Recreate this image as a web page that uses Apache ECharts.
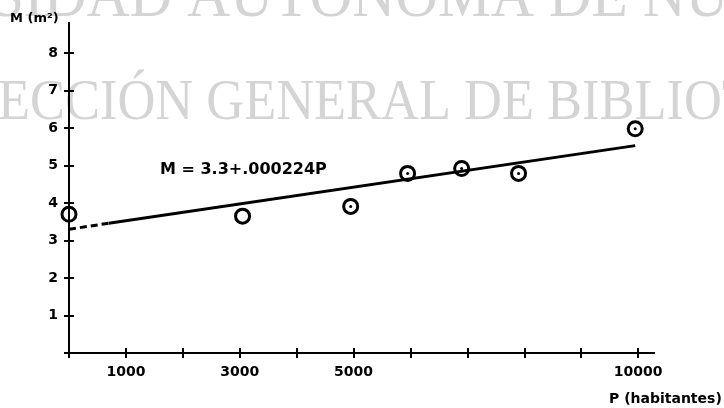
<!DOCTYPE html>
<html>
<head>
<meta charset="utf-8">
<script src="https://cdn.jsdelivr.net/npm/echarts@6/dist/echarts.min.js"></script>
<style>html,body{margin:0;padding:0;background:#fff}#c{width:724px;height:408px}</style>
</head>
<body>
<div id="c"></div>
<script>
// Observed points
var pointP = [0, 3050, 4950, 5950, 6900, 7900, 9950];
var pointM = [3.70, 3.65, 3.91, 4.79, 4.92, 4.79, 5.98];
var dotted = [false, false, true, true, true, true, true];
// Fitted line: dashed start, solid rest
var dashP = [0, 700];
var dashM = [3.30, 3.46];
var solidP = [700, 9950];
var solidM = [3.46, 5.53];
// Ticks
var yTicks = [0, 1, 2, 3, 4, 5, 6, 7, 8];
var yLabels = [1, 2, 3, 4, 5, 6, 7, 8];
var xTicks = [0, 1000, 2000, 3000, 4000, 5000, 6000, 7000, 8000, 9000, 10000];
var xLabels = [1000, 3000, 5000, 10000];
var equationText = 'M = 3.3+.000224P';
var yName = 'M (m²)';
var xName = 'P (habitantes)';
var watermark1 = 'SIDAD AUTÓNOMA DE NU';
var watermark2 = 'ECCIÓN GENERAL DE BIBLIOT';

var pts = pointP.map(function (p, i) { return [p, pointM[i]]; });
var dots = pointP.map(function (p, i) { return [p, pointM[i]]; }).filter(function (d, i) { return dotted[i]; });
var dash = dashP.map(function (p, i) { return [p, dashM[i]]; });
var solid = solidP.map(function (p, i) { return [p, solidM[i]]; });

var FONT = 'DejaVu Sans';
var xMin = 0, xMax = 10280, yMin = 0, yMax = 8.8;

function xAxisDef(inside, labels) {
  return {
    type: 'value', min: xMin, max: xMax, position: 'bottom',
    splitLine: { show: false },
    axisLine: { show: true, onZero: false, lineStyle: { color: '#000', width: 2 } },
    axisTick: { show: true, inside: inside, length: 5, customValues: xTicks, lineStyle: { color: '#000', width: 2 } },
    axisLabel: labels ? { show: true, customValues: xLabels, margin: 12, color: '#000', fontFamily: FONT, fontWeight: 'bold', fontSize: 14,
      formatter: function (v) { return String(v); } } : { show: false }
  };
}
function yAxisDef(inside, labels) {
  return {
    type: 'value', min: yMin, max: yMax, position: 'left',
    splitLine: { show: false },
    axisLine: { show: true, onZero: false, lineStyle: { color: '#000', width: 2 } },
    axisTick: { show: true, inside: inside, length: 5, customValues: yTicks, lineStyle: { color: '#000', width: 2 } },
    axisLabel: labels ? { show: true, customValues: yLabels, margin: 11, color: '#000', fontFamily: FONT, fontWeight: 'bold', fontSize: 14,
      formatter: function (v) { return String(v); } } : { show: false }
  };
}

var chart = echarts.init(document.getElementById('c'), null, { renderer: 'canvas' });
chart.setOption({
  animation: false,
  backgroundColor: '#fff',
  grid: { left: 69, right: 70, top: 23, bottom: 55, containLabel: false },
  xAxis: [xAxisDef(false, true), xAxisDef(true, false)],
  yAxis: [yAxisDef(false, true), yAxisDef(true, false)],
  graphic: [
    { type: 'text', x: -9, y: -1, scaleX: 0.9, silent: true, z: -10,
      style: { text: watermark1, x: 0, y: 0, fill: '#d4d4d4', font: '66px "Liberation Serif"', verticalAlign: 'middle', align: 'left' } },
    { type: 'text', x: -2, y: 104, scaleX: 0.92, silent: true, z: -10,
      style: { text: watermark2, x: 0, y: 0, fill: '#d4d4d4', font: '57px "Liberation Serif"', verticalAlign: 'middle', align: 'left' } },
    { type: 'text', x: 10, y: 19, z: 10,
      style: { text: yName, fill: '#000', font: 'bold 13px "DejaVu Sans"', verticalAlign: 'middle', align: 'left' } },
    { type: 'text', x: 609, y: 399, z: 10,
      style: { text: xName, fill: '#000', font: 'bold 14px "DejaVu Sans"', verticalAlign: 'middle', align: 'left' } },
    { type: 'text', x: 160, y: 170, z: 10,
      style: { text: equationText, fill: '#000', font: 'bold 16px "DejaVu Sans"', verticalAlign: 'middle', align: 'left' } }
  ],
  series: [
    { type: 'line', data: dash, xAxisIndex: 0, yAxisIndex: 0, symbol: 'none', z: 3,
      lineStyle: { color: '#000', width: 3, type: [7, 4] } },
    { type: 'line', data: solid, xAxisIndex: 0, yAxisIndex: 0, symbol: 'none', z: 3,
      lineStyle: { color: '#000', width: 3 } },
    { type: 'scatter', data: pts, xAxisIndex: 0, yAxisIndex: 0, symbol: 'circle', symbolSize: 14, z: 5,
      itemStyle: { color: 'rgba(255,255,255,0)', borderColor: '#000', borderWidth: 3, opacity: 1 } },
    { type: 'scatter', data: dots, xAxisIndex: 0, yAxisIndex: 0, symbol: 'circle', symbolSize: 3, z: 6,
      itemStyle: { color: '#000', opacity: 1 } }
  ]
});
</script>
</body>
</html>
